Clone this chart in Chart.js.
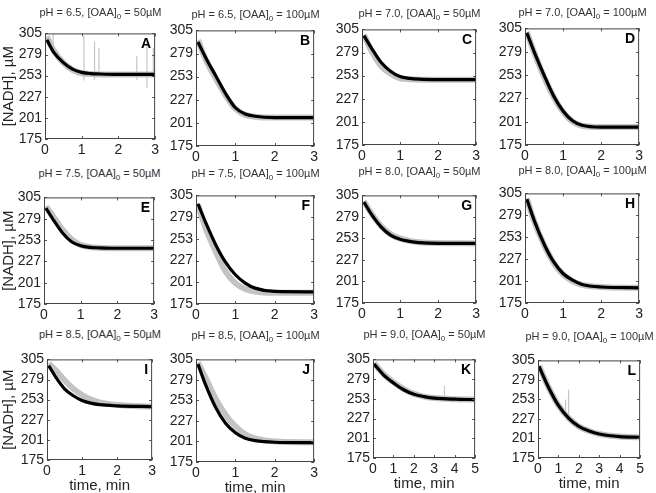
<!DOCTYPE html>
<html>
<head>
<meta charset="utf-8">
<script src="https://cdn.jsdelivr.net/npm/chart.js@4/dist/chart.umd.min.js"></script>
<style>
  body { margin: 0; background: #fff; width: 656px; height: 493px; position: relative; overflow: hidden;
         font-family: "Liberation Sans", Arial, sans-serif; }
  .panel { position: absolute; }
  .ttl { position: absolute; font-size: 11px; color: #333; white-space: nowrap; transform: translateX(-50%); line-height: 14px; z-index: 2; }
  .ttl sub { font-size: 8px; vertical-align: -3px; line-height: 0; }
</style>
</head>
<body>
<script>
// ---- data ----
const tShort = [0.05, 0.25, 0.5, 0.75, 1, 1.25, 1.5, 2, 3];   // min, panels A-J
const tLong  = [0.05, 0.5, 1, 1.5, 2, 2.5, 3, 4, 5];          // min, panels K-L
const yTicks = [175, 201, 227, 253, 279, 305];

const letters = ['A','B','C','D','E','F','G','H','I','J','K','L'];
const phs     = ['6.5','6.5','7.0','7.0','7.5','7.5','8.0','8.0','8.5','8.5','9.0','9.0'];
const oaa     = ['50','100','50','100','50','100','50','100','50','100','50','100'];

// measured [NADH] (grey) and model fit (black), uM
const dataA = [301, 283, 269, 260, 256, 255, 254.5, 254.5, 254.5];
const fitA  = [297, 281, 269, 261, 257, 255.5, 255, 254.5, 254.5];
const dataB = [294, 272, 251, 232, 217, 210, 208, 207, 207];
const fitB  = [292, 274, 254, 234, 218, 211, 208.5, 207, 207];
const dataC = [299, 281, 264, 255, 250, 249, 248.5, 248.5, 248.5];
const fitC  = [298, 284, 268, 258, 252, 250, 249, 248.5, 248.5];
const dataD = [301, 277, 251, 229, 212, 201, 196.5, 195, 195];
const fitD  = [300, 278, 253, 230, 213, 202, 197, 195, 195];
const dataE = [294, 282, 266, 254, 247, 244.5, 243.5, 243, 243];
const fitE  = [292, 278, 262, 251, 246, 244, 243.5, 243, 243];
const dataF = [294, 265, 238, 214, 200, 193, 190, 188.5, 188.5];
const fitF  = [295, 272, 246, 225, 210, 200, 194, 190, 189.5];
const dataG = [298, 283, 268, 258, 253, 250, 248.5, 247.5, 247];
const fitG  = [297, 282, 267, 257, 252, 249.5, 248, 247, 247];
const dataH = [299, 271, 244, 223, 209, 201, 196.5, 194, 193];
const fitH  = [298, 272, 245, 224, 210, 202, 197, 194, 193];
const dataI = [300, 291, 278, 267, 259, 253, 249.5, 246, 244];
const fitI  = [297, 282, 267, 258, 252, 248.5, 246.5, 245, 244];
const dataJ = [301, 281, 255, 235, 220, 210, 205, 201, 200];
const fitJ  = [299, 272, 244, 224, 212, 205, 202, 200, 199.5];
const dataK = [300, 286, 275, 266, 259.5, 256, 254, 252.5, 252];
const fitK  = [299, 285, 274, 265, 259, 256, 254, 252.5, 252];
const dataL = [298, 270, 245, 228, 217, 211, 207, 203.5, 202.5];
const fitL  = [297, 270, 245, 228, 217, 211, 207, 203.5, 202.5];

// outlier spikes in the raw traces: [time, low, high]
const spikesA = [[0.22, 283, 305], [1.06, 247, 302], [1.35, 248, 295], [1.47, 252, 287],
                 [2.5, 248, 277], [2.78, 238, 295], [2.95, 253, 287]];
const spikesK = [[0.45, 283, 292], [3.5, 253, 270]];
const spikesL = [[1.35, 235, 253], [1.5, 225, 266]];

const allData = [dataA, dataB, dataC, dataD, dataE, dataF, dataG, dataH, dataI, dataJ, dataK, dataL];
const allFit  = [fitA, fitB, fitC, fitD, fitE, fitF, fitG, fitH, fitI, fitJ, fitK, fitL];
const allSpikes = { A: spikesA, K: spikesK, L: spikesL };

// plot-area boxes (px) and title tops
const boxes = [
  { L: 45,  R: 156, T: 28,  B: 139, ty: 5 },
  { L: 196, R: 315, T: 25,  B: 146, ty: 7 },
  { L: 362, R: 477, T: 24,  B: 145, ty: 6 },
  { L: 525, R: 640, T: 23,  B: 145, ty: 5 },
  { L: 44,  R: 155, T: 192, B: 304, ty: 166 },
  { L: 196, R: 315, T: 190, B: 304, ty: 166 },
  { L: 362, R: 477, T: 190, B: 303, ty: 164 },
  { L: 525, R: 640, T: 188, B: 303, ty: 163 },
  { L: 47,  R: 153, T: 354, B: 460, ty: 327 },
  { L: 196, R: 315, T: 354, B: 462, ty: 328 },
  { L: 373, R: 476, T: 354, B: 458, ty: 327 },
  { L: 538, R: 641, T: 355, B: 458, ty: 329 }
];

Chart.defaults.font.family = '"Liberation Sans", Arial, sans-serif';
Chart.defaults.color = '#222';

// box round the plot, inward ticks and the panel letter
const framePlugin = {
  id: 'frame',
  afterDatasetsDraw(chart, args, opts) {
    const { ctx, chartArea: a, scales: { x, y } } = chart;
    ctx.save();
    ctx.strokeStyle = '#555';
    ctx.lineWidth = 1;
    ctx.beginPath();
    x.ticks.forEach(t => {
      const px = Math.round(x.getPixelForValue(t.value)) + 0.5;
      ctx.moveTo(px, a.bottom); ctx.lineTo(px, a.bottom - 3);
      ctx.moveTo(px, a.top); ctx.lineTo(px, a.top + 3);
    });
    y.ticks.forEach(t => {
      const py = Math.round(y.getPixelForValue(t.value)) + 0.5;
      ctx.moveTo(a.left, py); ctx.lineTo(a.left + 3, py);
      ctx.moveTo(a.right, py); ctx.lineTo(a.right - 3, py);
    });
    ctx.stroke();
    ctx.strokeStyle = '#444';
    ctx.strokeRect(a.left + 0.5, a.top + 0.5, a.right - a.left - 1, a.bottom - a.top - 1);
    ctx.font = 'bold 14px "Liberation Sans", Arial, sans-serif';
    ctx.fillStyle = '#000';
    ctx.textAlign = 'right';
    ctx.textBaseline = 'top';
    ctx.fillText(opts.letter, a.right - 4, a.top + 4);
    ctx.restore();
  }
};

function pts(ts, vs) { return ts.map((t, i) => ({ x: t, y: vs[i] })); }

function spikePts(list) {
  const out = [];
  (list || []).forEach(s => { out.push({ x: s[0], y: s[1] }, { x: s[0], y: s[2] }, { x: s[0], y: NaN }); });
  return out;
}

function makePanel(i) {
  const b = boxes[i];
  const row = Math.floor(i / 4), col = i % 4;
  const long = i >= 10;
  const ts = long ? tLong : tShort;
  const yW = col === 0 ? b.L : 40;
  const padTop = 6, padR = 6;
  const xH = row === 2 ? 35 : 20;
  const w = (b.R - b.L) + yW + padR;
  const h = (b.B - b.T) + padTop + xH;

  const div = document.createElement('div');
  div.className = 'panel';
  div.style.left = (b.L - yW) + 'px';
  div.style.top = (b.T - padTop) + 'px';
  const cv = document.createElement('canvas');
  cv.width = w; cv.height = h;
  cv.style.width = w + 'px'; cv.style.height = h + 'px';
  div.appendChild(cv);
  document.body.appendChild(div);

  const t = document.createElement('div');
  t.className = 'ttl';
  t.style.left = ((b.L + b.R) / 2) + 'px';
  t.style.top = b.ty + 'px';
  t.innerHTML = `pH = ${phs[i]}, [OAA]<sub>0</sub> = ${oaa[i]}\u00b5M`;
  document.body.appendChild(t);

  new Chart(cv, {
    type: 'line',
    data: {
      datasets: [
        { data: pts(ts, allFit[i]), borderColor: '#000', borderWidth: 3.2, pointRadius: 0,
          cubicInterpolationMode: 'monotone', order: 0 },
        { data: spikePts(allSpikes[letters[i]]), borderColor: '#c4c4c4', borderWidth: 1.2,
          pointRadius: 0, spanGaps: false, order: 1 },
        { data: pts(ts, allData[i]), borderColor: '#c3c3c3', borderWidth: 6, pointRadius: 0,
          cubicInterpolationMode: 'monotone', order: 2 }
      ]
    },
    options: {
      responsive: false,
      devicePixelRatio: 1,
      animation: false,
      events: [],
      layout: { padding: { top: padTop, right: padR, left: 0, bottom: 0 } },
      plugins: {
        legend: { display: false },
        tooltip: { enabled: false },
        frame: { letter: letters[i] }
      },
      scales: {
        x: {
          type: 'linear', min: 0, max: long ? 5 : 3,
          grid: { display: false, drawTicks: false },
          border: { display: false },
          ticks: { stepSize: 1, font: { size: 14 }, padding: 3, maxRotation: 0, autoSkip: false },
          title: { display: row === 2, text: 'time, min', font: { size: 15 }, padding: 0, color: '#222' },
          afterFit: s => { s.height = xH; }
        },
        y: {
          min: 175, max: 305,
          grid: { display: false, drawTicks: false },
          border: { display: false },
          afterBuildTicks: s => { s.ticks = yTicks.map(v => ({ value: v })); },
          ticks: { font: { size: 14 }, padding: 3, autoSkip: false },
          title: { display: col === 0, text: '[NADH], \u00b5M', font: { size: 15 }, padding: 0, color: '#222' },
          afterFit: s => { s.width = yW; }
        }
      }
    },
    plugins: [framePlugin]
  });
}

letters.forEach((l, i) => makePanel(i));
</script>
</body>
</html>
